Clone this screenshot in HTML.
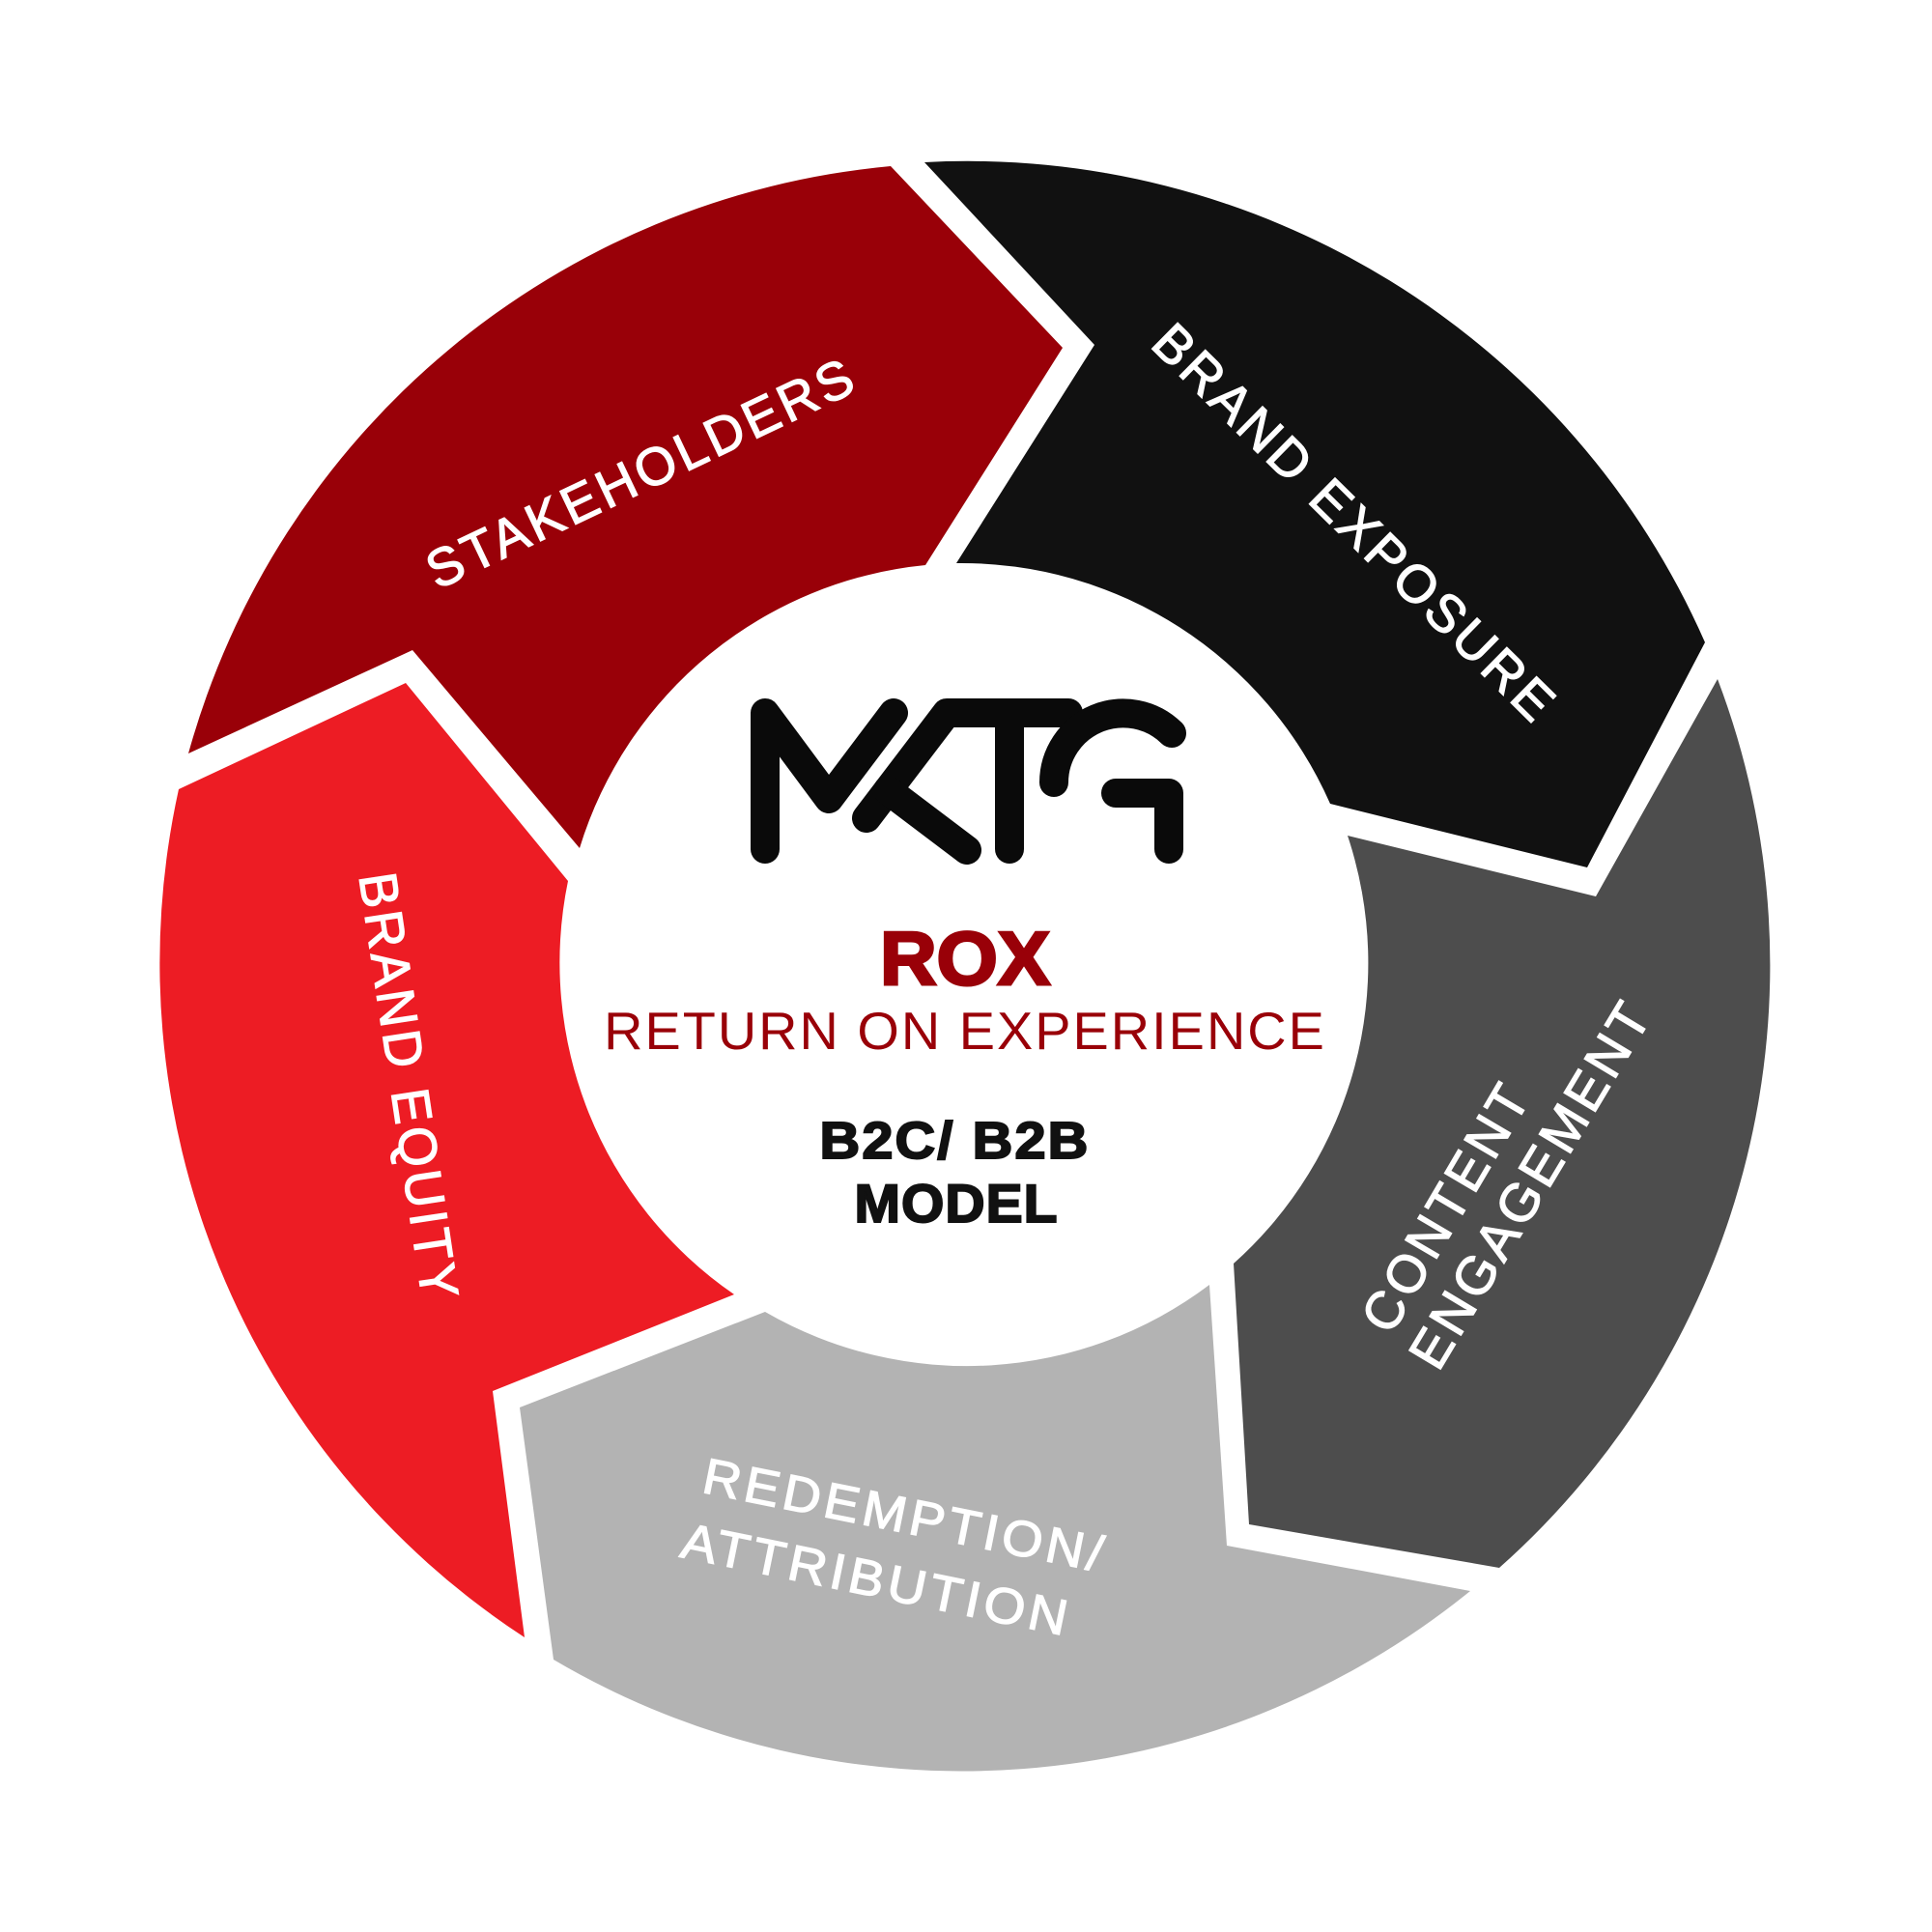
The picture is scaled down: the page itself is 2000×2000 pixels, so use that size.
<!DOCTYPE html>
<html>
<head>
<meta charset="utf-8">
<style>
  html, body { margin: 0; padding: 0; background: #ffffff; }
  body { width: 2000px; height: 2000px; overflow: hidden; }
  svg { display: block; }
  text { font-family: "Liberation Sans", "DejaVu Sans", sans-serif; }
  .lbl { fill: #ffffff; stroke: #ffffff; stroke-width: 1.3px; letter-spacing: 4px; }
</style>
</head>
<body>
<svg width="2000" height="2000" viewBox="0 0 2000 2000" xmlns="http://www.w3.org/2000/svg">
  <rect width="2000" height="2000" fill="#ffffff"/>

  <!-- STAKEHOLDERS segment -->
  <path d="M 195 780 A 834 834 0 0 1 922 172 L 1100 360 L 958 585 A 417 417 0 0 0 600 878 L 427 673 Z" fill="#990008"/>
  <!-- BRAND EXPOSURE segment -->
  <path d="M 957 168 A 834 834 0 0 1 1765 665 L 1643 898 L 1377 832 A 417 417 0 0 0 990 583 L 1133 357 Z" fill="#111111"/>
  <!-- CONTENT ENGAGEMENT segment -->
  <path d="M 1778 703 A 834 834 0 0 1 1552 1623 L 1293 1578 L 1277 1308 A 417 417 0 0 0 1395 865 L 1652 928 Z" fill="#4d4d4d"/>
  <!-- REDEMPTION / ATTRIBUTION segment -->
  <path d="M 1522 1647 A 834 834 0 0 1 573 1718 L 538 1457 L 792 1358 A 417 417 0 0 0 1252 1330 L 1270 1600 Z" fill="#b3b3b3"/>
  <!-- BRAND EQUITY segment -->
  <path d="M 543 1695 A 834 834 0 0 1 185 817 L 420 707 L 588 912 A 417 417 0 0 0 760 1340 L 510 1440 Z" fill="#ed1c24"/>

  <!-- Segment labels -->
  <g transform="translate(663.5 488.5) rotate(-25.4)">
    <text id="t1" class="lbl" x="0" y="20" font-size="55" text-anchor="middle">STAKEHOLDERS</text>
  </g>
  <g transform="translate(1403.5 541) rotate(44.6)">
    <text id="t2" class="lbl" x="0" y="20" font-size="55" text-anchor="middle">BRAND EXPOSURE</text>
  </g>
  <g transform="translate(1496 1248.5) rotate(-59.5)">
    <text id="t3" class="lbl" x="0" y="20" font-size="55" text-anchor="middle">CONTENT</text>
  </g>
  <g transform="translate(1583.5 1225) rotate(-59)">
    <text id="t4" class="lbl" x="0" y="20" font-size="55" text-anchor="middle">ENGAGEMENT</text>
  </g>
  <g transform="translate(937 1568) rotate(11.3)">
    <text id="t5" class="lbl" x="0" y="18.5" font-size="52" text-anchor="middle">REDEMPTION/</text>
  </g>
  <g transform="translate(907.5 1634.5) rotate(11.6)">
    <text id="t6" class="lbl" x="0" y="18.5" font-size="52" text-anchor="middle">ATTRIBUTION</text>
  </g>
  <g transform="translate(424.5 1125.5) rotate(81.5)">
    <text id="t7" class="lbl" x="0" y="20" font-size="55" text-anchor="middle">BRAND EQUITY</text>
  </g>

  <!-- MKTG logo -->
  <g fill="none" stroke="#0a0a0a" stroke-width="30" stroke-linecap="round" stroke-linejoin="round">
    <path d="M 792 879 L 792 738 L 858 827 L 925 738"/>
    <path d="M 897 847 L 980 738 L 1106 738"/>
    <path d="M 919 818 L 1001 880"/>
    <path d="M 1045 738 L 1045 879"/>
    <path d="M 1091 810 A 71.7 71.7 0 0 1 1213 759"/>
    <path d="M 1155 821 L 1210 821 L 1210 879"/>
  </g>

  <!-- Center text -->
  <g transform="translate(999 1019)">
    <text id="c1" x="0" y="0" font-weight="bold" font-size="78" fill="#990008" stroke="#990008" stroke-width="3" text-anchor="middle">ROX</text>
  </g>
  <g transform="translate(999 1086)">
    <text id="c2" x="0" y="0" font-size="55" fill="#990008" text-anchor="middle" style="letter-spacing:2px">RETURN ON EXPERIENCE</text>
  </g>
  <g transform="translate(988.5 1199)">
    <text id="c3" x="0" y="0" font-weight="bold" font-size="54" fill="#111111" stroke="#111111" stroke-width="2" text-anchor="middle" style="letter-spacing:2px">B2C/ B2B</text>
  </g>
  <g transform="translate(990 1265)">
    <text id="c4" x="0" y="0" font-weight="bold" font-size="56" fill="#111111" stroke="#111111" stroke-width="2" text-anchor="middle" style="letter-spacing:1px">MODEL</text>
  </g>
</svg>
<script>
(function(){
  var targets = {t1:486,t2:562,t3:290,t4:434,t5:425,t6:411,t7:449,c1:176,c2:748,c3:280,c4:211};
  for (var id in targets) {
    var el = document.getElementById(id);
    if (!el) continue;
    var w = 0;
    try { w = el.getBBox().width; } catch(e) { w = 0; }
    if (!(w > 0)) { try { w = el.getComputedTextLength(); } catch(e) { w = 0; } }
    if (w > 0) {
      var sx = targets[id] / w;
      el.setAttribute('transform', 'scale(' + sx.toFixed(4) + ',1)');
    }
  }
})();
</script>
</body>
</html>
